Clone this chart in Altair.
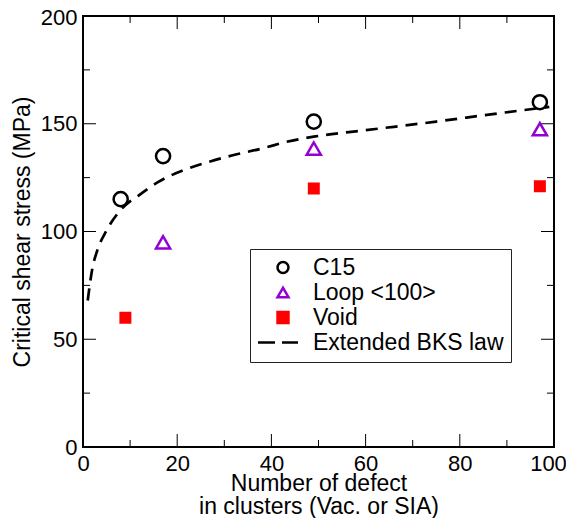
import altair as alt
import pandas as pd

# ---- data ----
series_names = ["C15", "Loop <100>", "Void", "Extended BKS law"]

c15_x = [8, 17, 49, 97]
c15_y = [115, 135, 151, 160]

loop_x = [17, 49, 97]
loop_y = [95, 138.5, 147.5]

void_x = [9, 49, 97]
void_y = [60, 120, 121]

bks_x = [1, 2, 3, 5, 8, 12, 16, 22, 27, 32, 38, 43, 49, 60, 75, 87, 99]
bks_y = [68, 83, 91, 100.5, 110, 117, 123, 129, 132.5, 135.5, 138.5, 141.5, 144, 147, 151, 154.5, 157.8]

x_major = [0, 20, 40, 60, 80, 100]
x_minor = [10, 30, 50, 70, 90]
y_major = [0, 50, 100, 150, 200]
y_minor = [25, 75, 125, 175]

# ---- build tables ----
pts = pd.DataFrame({
    "x": c15_x + loop_x + void_x,
    "y": c15_y + loop_y + void_y,
    "series": [series_names[0]] * len(c15_x) + [series_names[1]] * len(loop_x) + [series_names[2]] * len(void_x),
})
bks = pd.DataFrame({"x": bks_x, "y": bks_y})

W, H = 471, 431
FONT = "Liberation Sans"

XS = alt.Scale(domain=[0, 100], nice=False, zero=False)
YS = alt.Scale(domain=[0, 200], nice=False, zero=False)

XA = alt.Axis(values=x_major, ticks=False, tickSize=0, domain=False, grid=False,
              labelFontSize=22, labelPadding=6, labelColor="black", labelFlush=False,
              labelOverlap=False,
              labelOffset={"condition": {"test": "datum.value == 100", "value": -6}, "value": 0},
              title=["Number of defect", "in clusters (Vac. or SIA)"],
              titleFontSize=23, titleFontWeight="normal", titlePadding=-2,
              titleLineHeight=23, titleColor="black")
YA = alt.Axis(values=y_major, ticks=False, tickSize=0, domain=False, grid=False,
              labelFontSize=22, labelPadding=6, labelColor="black", labelFlush=False,
              labelOverlap=False,
              labelOffset={"condition": {"test": "datum.value == 200", "value": 1.5}, "value": 0},
              title="Critical shear stress (MPa)",
              titleFontSize=23, titleFontWeight="normal", titlePadding=6, titleColor="black")

X = alt.X("x:Q", scale=XS, axis=XA)
Y = alt.Y("y:Q", scale=YS, axis=YA)

dash_path = "M-4.56,0L-1.46,0M-0.18,0L2.74,0"

LEG = alt.Legend(orient="none", legendX=167, legendY=233, padding=7, title=None,
                 symbolOffset=14.5, labelOffset=18.5, rowPadding=1,
                 strokeColor="#222", fillColor="white", labelFontSize=23,
                 labelColor="black", labelLimit=0, symbolSize=120,
                 symbolStrokeWidth=2.5, labelFont=FONT)

SHAPE = alt.Shape("series:N", scale=alt.Scale(domain=series_names,
                  range=["circle", "triangle-up", "square", dash_path]), legend=LEG)
FILL = alt.Fill("series:N", scale=alt.Scale(domain=series_names,
                range=["transparent", "transparent", "#ff0000", "transparent"]), legend=LEG)
STROKE = alt.Stroke("series:N", scale=alt.Scale(domain=series_names,
                    range=["black", "#9400d3", "#ff0000", "black"]), legend=LEG)

marker_sizes = {series_names[0]: 200, series_names[1]: 200, series_names[2]: 90}


def point_layer(name):
    return alt.Chart(pts).transform_filter(alt.datum.series == name).mark_point(
        opacity=1, strokeWidth=2.5, fillOpacity=1, size=marker_sizes[name]
    ).encode(x=X, y=Y, shape=SHAPE, fill=FILL, stroke=STROKE)


points = [point_layer(n) for n in series_names[:3]]

line = alt.Chart(bks).mark_line(color="black", strokeWidth=2.7, strokeDash=[12, 8],
                                interpolate="monotone").encode(x=X, y=Y)


def xticks(vals, length, top):
    df = pd.DataFrame({"x": vals})
    if top:
        yy, yy2 = alt.value(0), alt.value(length)
    else:
        yy, yy2 = alt.value(H), alt.value(H - length)
    return alt.Chart(df).mark_rule(color="black", strokeWidth=1).encode(x=X, y=yy, y2=yy2)


def yticks(vals, length, right):
    df = pd.DataFrame({"y": vals})
    if right:
        xx, xx2 = alt.value(W), alt.value(W - length)
    else:
        xx, xx2 = alt.value(0), alt.value(length)
    return alt.Chart(df).mark_rule(color="black", strokeWidth=1).encode(y=Y, x=xx, x2=xx2)


ticks = [
    xticks(x_major, 13, False), xticks(x_major, 13, True),
    xticks(x_minor, 7, False), xticks(x_minor, 7, True),
    yticks(y_major, 13, False), yticks(y_major, 13, True),
    yticks(y_minor, 7, False), yticks(y_minor, 7, True),
]

chart = alt.layer(*ticks, line, *points).properties(
    width=W, height=H,
    autosize=alt.AutoSizeParams(type="none"),
    padding={"left": 75, "top": 8, "right": 12, "bottom": 71},
).configure(font=FONT).configure_view(stroke="black", strokeWidth=2)

chart.save("out.html", embed_options={"renderer": "svg", "actions": False})
